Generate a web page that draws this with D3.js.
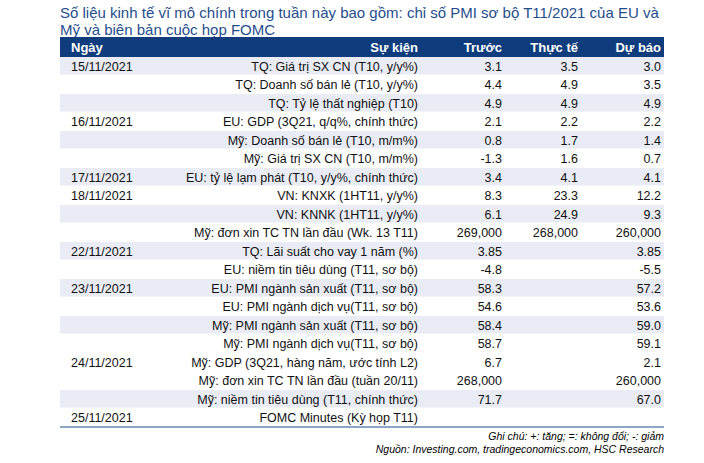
<!DOCTYPE html>
<html><head><meta charset="utf-8">
<script src="https://cdn.jsdelivr.net/npm/d3@7"></script>
<style>body{margin:0;background:#fff;font-family:"Liberation Sans",Arial,sans-serif}</style>
</head><body><svg id="chart" width="704" height="463"></svg>
<script>
// table data
const headers = ["Ngày", "Sự kiện", "Trước", "Thực tế", "Dự báo"];
const dates = ["15/11/2021","","","16/11/2021","","","17/11/2021","18/11/2021","","","22/11/2021","","23/11/2021","","","","24/11/2021","","","25/11/2021"];
const events = ["TQ: Giá trị SX CN (T10, y/y%)","TQ: Doanh số bán lẻ (T10, y/y%)","TQ: Tỷ lệ thất nghiệp (T10)",
  "EU: GDP (3Q21, q/q%, chính thức)","Mỹ: Doanh số bán lẻ (T10, m/m%)","Mỹ: Giá trị SX CN (T10, m/m%)",
  "EU: tỷ lệ lạm phát (T10, y/y%, chính thức)","VN: KNXK (1HT11, y/y%)","VN: KNNK (1HT11, y/y%)",
  "Mỹ: đơn xin TC TN lần đầu (Wk. 13 T11)","TQ: Lãi suất cho vay 1 năm (%)","EU: niềm tin tiêu dùng (T11, sơ bộ)",
  "EU: PMI ngành sản xuất (T11, sơ bộ)","EU: PMI ngành dịch vụ(T11, sơ bộ)","Mỹ: PMI ngành sản xuất (T11, sơ bộ)",
  "Mỹ: PMI ngành dịch vụ(T11, sơ bộ)","Mỹ: GDP (3Q21, hàng năm, ước tính L2)","Mỹ: đơn xin TC TN lần đầu (tuần 20/11)",
  "Mỹ: niềm tin tiêu dùng (T11, chính thức)","FOMC Minutes (Kỳ họp T11)"];
const previous = ["3.1","4.4","4.9","2.1","0.8","-1.3","3.4","8.3","6.1","269,000","3.85","-4.8","58.3","54.6","58.4","58.7","6.7","268,000","71.7",""];
const actual = ["3.5","4.9","4.9","2.2","1.7","1.6","4.1","23.3","24.9","268,000","","","","","","","","","",""];
const forecast = ["3.0","3.5","4.9","2.2","1.4","0.7","4.1","12.2","9.3","260,000","3.85","-5.5","57.2","53.6","59.0","59.1","2.1","260,000","67.0",""];
const shaded = [1,0,1,0,1,0,1,0,1,0,1,0,1,0,1,0,0,0,1,0];

const svg = d3.select("#chart");
const blue = "#1f4e8c";
const x0 = 60, x1 = 664;
const y = d3.scaleBand().domain(d3.range(events.length)).range([57, 427]);
const colX = [63, 418, 502, 578, 661];

svg.append("text").attr("x", 60).attr("y", 18).attr("fill", blue).attr("font-size", 15)
  .text("Số liệu kinh tế vĩ mô chính trong tuần này bao gồm: chỉ số PMI sơ bộ T11/2021 của EU và");
svg.append("text").attr("x", 60).attr("y", 35).attr("fill", blue).attr("font-size", 15)
  .text("Mỹ và biên bản cuộc họp FOMC");

svg.append("rect").attr("x", x0).attr("y", 37).attr("width", x1 - x0).attr("height", 20).attr("fill", "#0e3c7c");
svg.selectAll(".hd").data(headers).enter().append("text")
  .attr("x", (d, i) => i === 0 ? colX[0] + 8 : colX[i])
  .attr("y", 52).attr("fill", "#fff").attr("font-size", 13).attr("font-weight", "bold")
  .attr("text-anchor", (d, i) => i === 0 ? "start" : "end").text(d => d);

const rows = svg.selectAll(".row").data(events).enter().append("g")
  .attr("transform", (d, i) => `translate(0,${y(i)})`);
rows.append("rect").attr("x", x0).attr("width", x1 - x0).attr("height", y.bandwidth() - 1)
  .attr("fill", (d, i) => shaded[i] ? "#e9ecf4" : "#fff");
const cols = [dates, events, previous, actual, forecast];
cols.forEach((arr, c) => {
  rows.append("text").attr("x", c === 0 ? colX[0] + 8 : colX[c]).attr("y", 13.5)
    .attr("text-anchor", c === 0 ? "start" : "end")
    .attr("font-size", 12.5).attr("fill", "#111").text((d, i) => arr[i]);
});

svg.append("line").attr("x1", x0).attr("x2", x1).attr("y1", 427).attr("y2", 427)
  .attr("stroke", blue).attr("stroke-width", 1.2);
svg.append("text").attr("x", 664).attr("y", 440).attr("text-anchor", "end").attr("font-size", 10.5)
  .attr("font-style", "italic").text("Ghi chú: +: tăng; =: không đổi; -: giảm");
svg.append("text").attr("x", 664).attr("y", 453).attr("text-anchor", "end").attr("font-size", 10.5)
  .attr("font-style", "italic").text("Nguồn: Investing.com, tradingeconomics.com, HSC Research");
</script></body></html>
